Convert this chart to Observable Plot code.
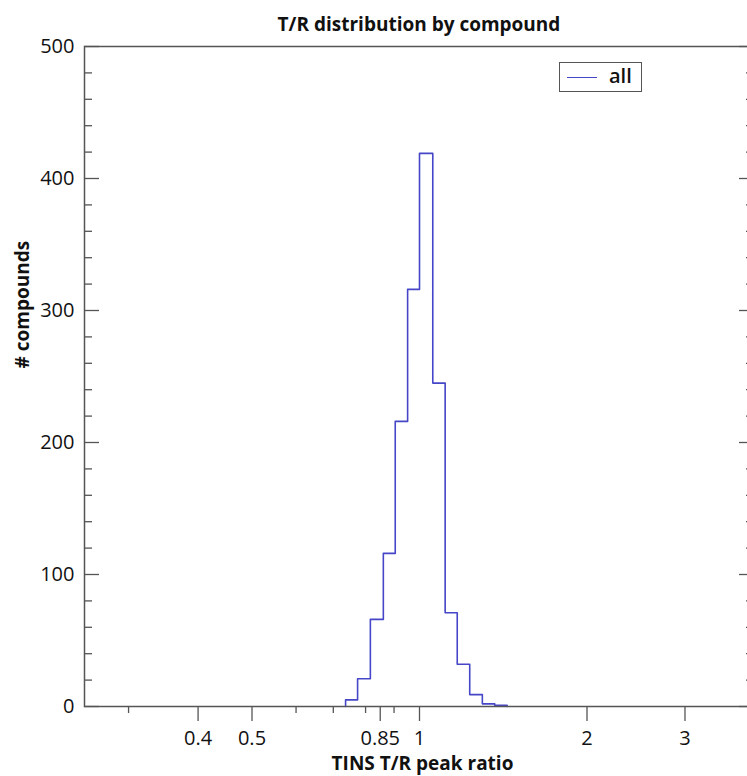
<!DOCTYPE html>
<html><head><meta charset="utf-8">
<script src="https://cdn.jsdelivr.net/npm/d3@7"></script>
<script src="https://cdn.jsdelivr.net/npm/@observablehq/plot@0.6"></script>
<style>
html,body{margin:0;padding:0;background:#fff;overflow:hidden;width:747px;height:776px;}
#wrap{position:relative;width:770px;height:776px;font-family:"Open Sans",sans-serif;color:#111;}
#title{position:absolute;top:15px;left:419px;transform:translateX(-50%);white-space:nowrap;font-weight:bold;font-size:19px;line-height:19px;}
#chart{position:absolute;top:44px;left:0;}
#chart svg{max-width:none !important;}
#legend{position:absolute;left:559px;top:62px;width:83px;height:30px;box-sizing:border-box;border:1px solid #555;background:#fff;}
#legend .sw{position:absolute;left:7px;top:14px;width:30px;height:0;border-top:1.6px solid #4646c8;}
#legend .lb{position:absolute;left:49px;top:3px;font-size:20px;line-height:20px;font-weight:600;}
</style></head>
<body>
<div id="wrap">
  <div id="title">T/R distribution by compound</div>
  <div id="chart"></div>
  <div id="legend"><div class="sw"></div><div class="lb">all</div></div>
</div>
<script>
// Histogram bin edges (T/R peak ratio) and counts per bin
const binEdges = [0.7365, 0.774, 0.816, 0.861, 0.9045, 0.952, 1.0, 1.0565, 1.112, 1.169, 1.231, 1.297, 1.365, 1.437];
const counts   = [5, 21, 66, 116, 216, 316, 419, 245, 71, 32, 9, 2, 1];

// Axis ticks
const xLabelTicks = [0.4, 0.5, 0.85, 1, 2, 3];
const xMinorTicks = [0.3, 0.6, 0.7, 0.8, 0.9];
const yMajorTicks = [0, 100, 200, 300, 400, 500];
const yMinorTicks = [20, 40, 60, 80, 120, 140, 160, 180, 220, 240, 260, 280, 320, 340, 360, 380, 420, 440, 460, 480];
const xDomain = [0.25, 4];
const yDomain = [0, 500];

// Step outline table built from edges/counts
const outline = [{x: binEdges[0], y: 0}];
counts.forEach((c, i) => outline.push({x: binEdges[i], y: c}));
outline.push({x: binEdges[binEdges.length - 1], y: 0});

const axisColor = "#555";
const frameW = 670;

const chart = Plot.plot({
  width: 770,
  height: 730,
  marginLeft: 84,
  marginRight: 16,
  marginTop: 2,
  marginBottom: 68,
  style: {fontFamily: "'Open Sans', sans-serif", color: "#111", background: "#fff", overflow: "visible"},
  x: {type: "log", domain: xDomain},
  y: {domain: yDomain},
  marks: [
    Plot.line(outline, {x: "x", y: "y", curve: "step-after", stroke: "#4646c8", strokeWidth: 1.6}),
    Plot.axisX({ticks: xLabelTicks, tickSize: 15, tickPadding: 9, fontSize: 20, stroke: axisColor, strokeWidth: 1.3,
      tickFormat: d => String(d), label: null}),
    Plot.axisX({ticks: xMinorTicks, tickSize: 7, tickFormat: () => "", stroke: axisColor, strokeWidth: 1.3, label: null}),
    Plot.axisY({ticks: yMajorTicks, tickSize: 0, tickPadding: 10, fontSize: 20, tickFormat: d => String(d), label: null}),
    Plot.tickY(yMajorTicks, {y: d => d, insetRight: frameW - 15, stroke: axisColor, strokeWidth: 1.3}),
    Plot.tickY(yMinorTicks, {y: d => d, insetRight: frameW - 8, stroke: axisColor, strokeWidth: 1.3}),
    Plot.tickY(yMajorTicks, {y: d => d, insetLeft: frameW - 15, stroke: axisColor, strokeWidth: 1.3}),
    Plot.tickY(yMinorTicks, {y: d => d, insetLeft: frameW - 8, stroke: axisColor, strokeWidth: 1.3}),
    Plot.frame({stroke: axisColor, strokeWidth: 1.5}),
    Plot.text(["# compounds"], {text: d => d, frameAnchor: "left", rotate: -90, dx: -62, dy: -8, fontWeight: "bold", fontSize: 19, fill: "#111"}),
    Plot.text(["TINS T/R peak ratio"], {text: d => d, frameAnchor: "bottom", lineAnchor: "bottom", dy: 63, dx: 3, fontWeight: "bold", fontSize: 19, fill: "#111"})
  ]
});
document.getElementById("chart").appendChild(chart);
</script>
</body></html>
